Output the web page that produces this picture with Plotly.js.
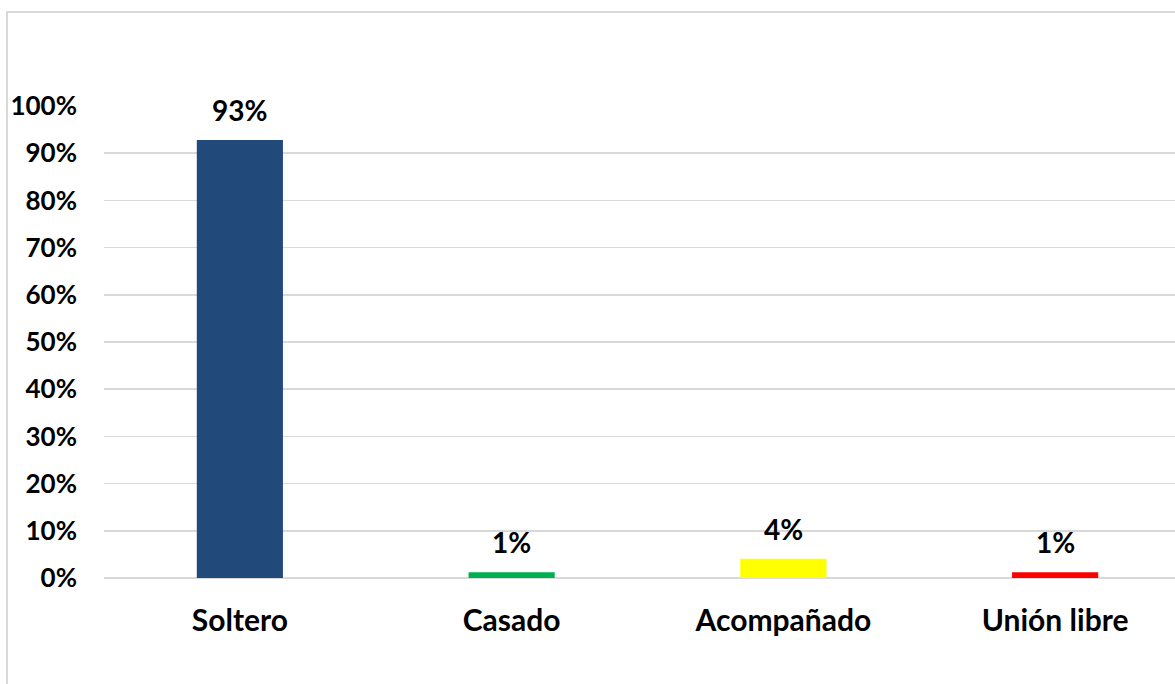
<!DOCTYPE html>
<html>
<head>
<meta charset="utf-8">
<script src="https://cdn.plot.ly/plotly-3.0.1.min.js"></script>
<style>
html,body{margin:0;padding:0;width:1175px;height:684px;overflow:hidden;background:#fff;}
#chart{position:absolute;left:0;top:0;}
#frame{position:absolute;left:6px;top:11px;width:1300px;height:800px;border:2px solid #d9d9d9;pointer-events:none;}
</style>
</head>
<body>
<div id="chart"></div>
<div id="frame"></div>
<script>
const categories = ["Soltero", "Casado", "Acompañado", "Unión libre"];
const values = [0.928, 0.012, 0.041, 0.012];
const barColors = ["#214A7B", "#00B050", "#FFFF00", "#FF0000"];
const tickValues = [0, 0.1, 0.2, 0.3, 0.4, 0.5, 0.6, 0.7, 0.8, 0.9, 1.0];
const tickLabels = ["0%", "10%", "20%", "30%", "40%", "50%", "60%", "70%", "80%", "90%", "100%"];

const FONT = "Lato, 'Open Sans', sans-serif";

const trace = {
  type: "bar",
  x: categories,
  y: values,
  marker: {color: barColors},
  width: 0.317,
  hoverinfo: "skip"
};

const annotations = categories.map((c, i) => ({
  x: c, y: values[i], xref: "x", yref: "y",
  text: "<b>" + Math.round(values[i] * 100) + "%</b>",
  showarrow: false, yanchor: "bottom", yshift: 11,
  font: {family: FONT, size: 28, color: "#000"}
}));

const layout = {
  width: 1200, height: 684,
  margin: {l: 104, r: 9, t: 106, b: 105.5},
  paper_bgcolor: "#fff", plot_bgcolor: "#fff",
  showlegend: false,
  bargap: 0.683,
  xaxis: {
    type: "category",
    showgrid: false, showline: false, zeroline: false,
    ticks: "", ticklabelstandoff: 22,
    tickfont: {family: FONT, size: 30, color: "#000", weight: "bold"}
  },
  yaxis: {
    range: [0, 1],
    tickvals: tickValues, ticktext: tickLabels,
    showgrid: true, gridcolor: "#d9d9d9", gridwidth: 1.5,
    zeroline: true, zerolinecolor: "#d9d9d9", zerolinewidth: 1.5,
    showline: false, ticks: "", ticklabelstandoff: 26,
    tickfont: {family: FONT, size: 26, color: "#000", weight: "bold"}
  },
  annotations: annotations
};

Plotly.newPlot("chart", [trace], layout, {displayModeBar: false, staticPlot: true});
</script>
</body>
</html>
